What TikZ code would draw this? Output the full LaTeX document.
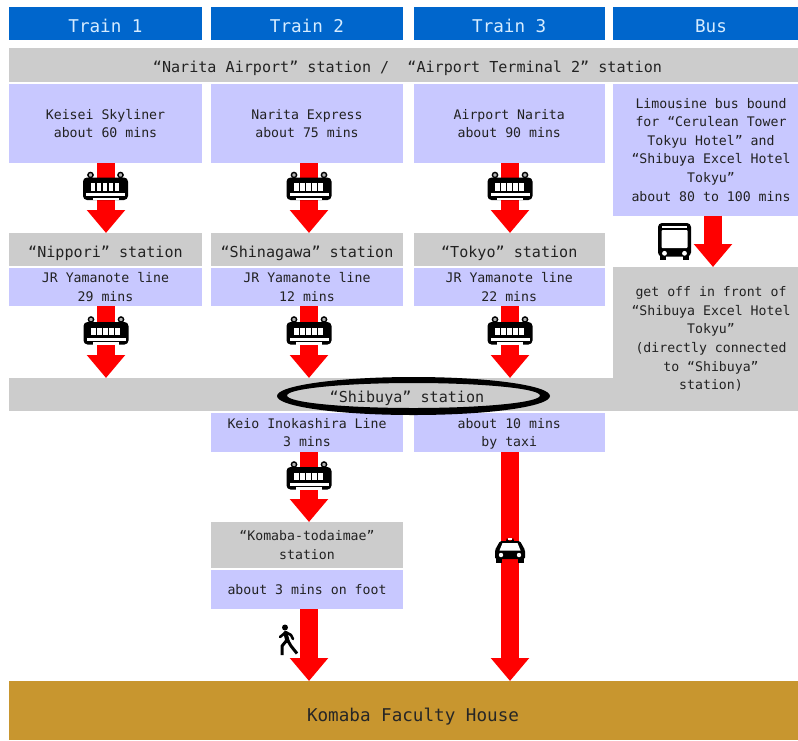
\documentclass[tikz,border=0pt]{standalone}
\usepackage{fontspec}
\setmonofont{DejaVu Sans Mono}
\usetikzlibrary{arrows.meta}
\definecolor{hdr}{HTML}{0066CC}
\definecolor{hdrtext}{HTML}{D6ECFF}
\definecolor{lilac}{HTML}{C8C8FF}
\definecolor{stn}{HTML}{CCCCCC}
\definecolor{brownb}{HTML}{C8962F}
\definecolor{ink}{HTML}{222222}
\newcommand{\monosize}[2]{\ttfamily\fontsize{#1}{#2}\selectfont}
\tikzset{
  x=1pt,y=-1pt,
  boxbase/.style={inner sep=0pt,outer sep=0pt,align=flush center,text=ink,font=\monosize{13.2}{18.6}},
  size/.style 2 args={minimum width=#1pt,minimum height=#2pt,text width=#1pt},
  headbox/.style={boxbase,fill=hdr,text=hdrtext,font=\monosize{17.6}{20},text height=19pt,text depth=2pt},
  routebox/.style={boxbase,fill=lilac},
  stationbox/.style={boxbase,fill=stn,font=\monosize{15.1}{20},text height=17pt,text depth=2pt},
  stationsmall/.style={boxbase,fill=stn},
  destbox/.style={boxbase,fill=brownb,text=black!85,font=\monosize{17.6}{20},text height=24pt,text depth=2pt},
  bigarrow/.style={draw=red,line width=18pt,-{Triangle[width=37pt,length=23pt,fill=red]}},
  trainicon/.pic={
    \draw[black,line width=1.4pt,fill=white!70!black] (-15,-11.5) circle (2.6);
    \draw[black,line width=1.4pt,fill=white!70!black] (15,-11.5) circle (2.6);
    \fill[black,rounded corners=4pt] (-22.5,-9) rectangle (22.5,13.5);
    \fill[white] (-19.5,6.5) rectangle (19.5,9.7);
    \foreach \wx in {-15,-9,-3,3,9}
      \fill[white] (\wx,-3.5) rectangle ++(4.8,7.5);
    \fill[white] (-13,11.3) rectangle (13,13.7);
  },
  busicon/.pic={
    \fill[black,rounded corners=4pt] (-16.5,-18.5) rectangle (16.5,15);
    \fill[black] (-14.5,12) rectangle (-8.5,18.5);
    \fill[black] (8.5,12) rectangle (14.5,18.5);
    \fill[white] (-12.5,-15.3) rectangle (12.5,-14);
    \fill[white,rounded corners=1pt] (-13,-11.5) rectangle (13,6.5);
    \fill[white] (-10,11.8) circle (2.4);
    \fill[white] (10,11.8) circle (2.4);
  },
  taxiicon/.pic={
    \fill[black] (-4,-8) -- (-3,-11) arc (180:0:3) -- (4,-8) -- cycle;
    \fill[white] (-2,-9) rectangle (2,-11);
    \fill[black,rounded corners=1.5pt] (-10,-8) -- (10,-8) -- (15,1) -- (15,10) -- (-15,10) -- (-15,1) -- cycle;
    \fill[white] (-7.5,-6) -- (7.5,-6) -- (10.5,1.5) -- (-10.5,1.5) -- cycle;
    \fill[white] (-9,6) circle (2.2);
    \fill[white] (9,6) circle (2.2);
    \fill[black] (-14,9) rectangle (-8,13.5);
    \fill[black] (8,9) rectangle (14,13.5);
  },
  walkicon/.pic={
    \fill[black] (-3,-12.5) circle (3);
    \draw[black,line width=4.2pt,line cap=round] (-2.5,-7) -- (-0.5,1);
    \draw[black,line width=2.6pt,line cap=round,line join=round] (-2.5,-7.5) -- (-8,-3);
    \draw[black,line width=2.6pt,line cap=round,line join=round] (-1.5,-7.5) -- (3,-5) -- (5,-1);
    \draw[black,line width=3pt,line join=round] (-1,0) -- (-6,6) -- (-6,15);
    \draw[black,line width=3pt,line join=round] (-0.5,0) -- (3,6) -- (9,13.5);
  }
}
\begin{document}
\begin{tikzpicture}
\useasboundingbox (0,0) rectangle (798,740);
\clip (0,0) rectangle (798,740);
\fill[white] (0,0) rectangle (798,740);
% arrow columns
\coordinate (c1) at (106,0);
\coordinate (c2) at (309,0);
\coordinate (c3) at (510,0);
\coordinate (c4) at (713,0);
% headers
\node[headbox,size={193}{33}] (h1) at (105.5,23.5) {Train 1};
\node[headbox,size={192}{33}] (h2) at (307,23.5) {Train 2};
\node[headbox,size={191.5}{33}] (h3) at (509.25,23.5) {Train 3};
\node[headbox,size={196}{33}] (h4) at (711,23.5) {Bus};
% airport
\node[stationbox,size={797}{34}] (airport) at (407.5,65) {“Narita Airport” station /\ \ “Airport Terminal 2” station};
% first services
\node[routebox,size={193}{79}] (r1) at (105.5,123.5) {Keisei Skyliner\\about 60 mins};
\node[routebox,size={192}{79}] (r2) at (307,123.5) {Narita Express\\about 75 mins};
\node[routebox,size={191.5}{79}] (r3) at (509.25,123.5) {Airport Narita\\about 90 mins};
\node[routebox,size={196}{131.5}] (r4) at (711,149.75) {Limousine bus bound\\for “Cerulean Tower\\Tokyu Hotel” and\\“Shibuya Excel Hotel\\Tokyu”\\about 80 to 100 mins};
% interchange stations
\node[stationbox,size={193}{33}] (s1) at (105.5,249.5) {“Nippori” station};
\node[stationbox,size={192}{33}] (s2) at (307,249.5) {“Shinagawa” station};
\node[stationbox,size={191.5}{33}] (s3) at (509.25,249.5) {“Tokyo” station};
% Yamanote
\node[routebox,size={193}{38}] (y1) at (105.5,287) {JR Yamanote line\\29 mins};
\node[routebox,size={192}{38}] (y2) at (307,287) {JR Yamanote line\\12 mins};
\node[routebox,size={191.5}{38}] (y3) at (509.25,287) {JR Yamanote line\\22 mins};
% Shibuya
\node[stationbox,size={796}{33}] (shibuya) at (407,394.5) {“Shibuya” station};
\node[stationsmall,size={196}{144}] (s4) at (711,339) {get off in front of\\“Shibuya Excel Hotel\\Tokyu”\\(directly connected\\to “Shibuya”\\station)};
% after Shibuya
\node[routebox,size={192}{39}] (keio) at (307,432.5) {Keio Inokashira Line\\3 mins};
\node[routebox,size={191.5}{39}] (taxi) at (509.25,432.5) {about 10 mins\\\smash{by taxi}};
\node[stationsmall,size={192}{46}] (komaba) at (307,545) {“Komaba-todaimae”\\station};
\node[routebox,size={192}{39}] (foot) at (307,589.5) {about 3 mins on foot};
\node[destbox,size={808}{59}] (house) at (413,710.5) {Komaba Faculty House};
% connectors
\foreach \col/\a/\b in {c1/r1/s1,c2/r2/s2,c3/r3/s3,c4/r4/s4,c1/y1/shibuya,c2/y2/shibuya,c3/y3/shibuya,c2/keio/komaba,c2/foot/house,c3/taxi/house}
  \draw[bigarrow] (\col |- \a.south) -- (\col |- \b.north);
% ring round Shibuya
\fill[black,even odd rule] (413.5,396) ellipse [x radius=136.5,y radius=19]
                           (413.5,395.5) ellipse [x radius=126.5,y radius=12.5];
% icons
\foreach \px/\py in {105.5/186.5,309/186.5,510/186.5,106/331,309/331,510/331,309/476}
  \pic at (\px,\py) {trainicon};
\pic at (674.5,241.5) {busicon};
\pic at (510,549) {taxiicon};
\pic at (288,640) {walkicon};
\end{tikzpicture}
\end{document}
